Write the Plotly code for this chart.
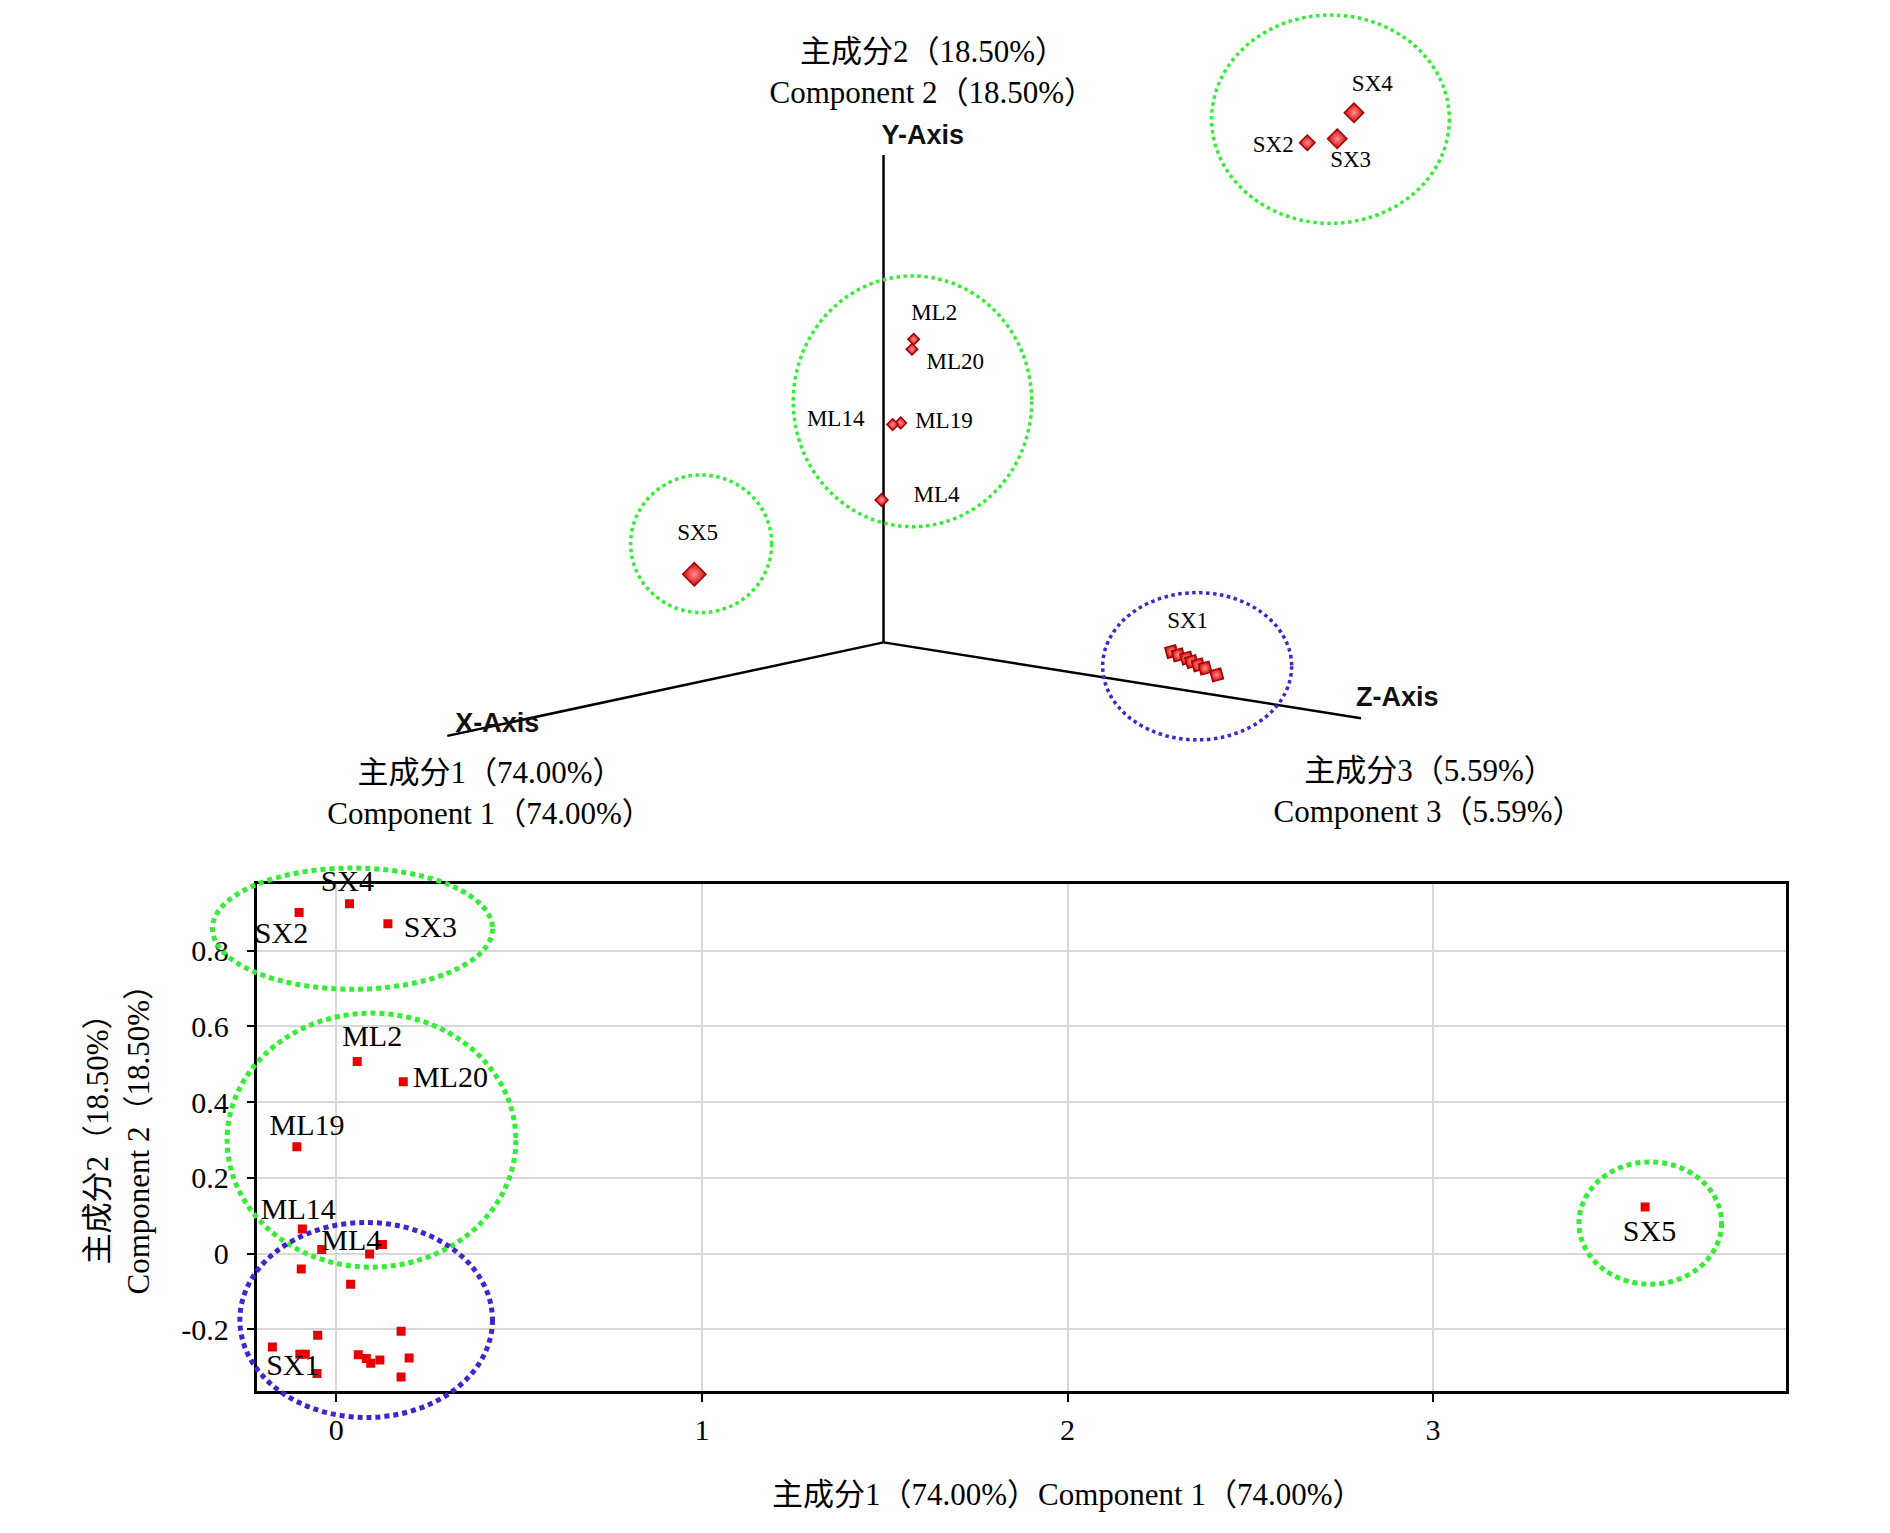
import plotly.graph_objects as go

# ---------------- 2D score plot (PC1 vs PC2) ----------------
pc1_scores = [0.036, -0.102, 0.141, 0.057, 0.183, -0.108, -0.093, -0.040, 0.091, 0.126,
              -0.096, 0.039, 0.177, -0.051, -0.175, -0.100, -0.085, -0.053, 0.060, 0.082,
              0.094, 0.119, 0.199, 0.177, 3.580]
pc2_scores = [0.924, 0.901, 0.871, 0.507, 0.454, 0.282, 0.065, 0.011, -0.001, 0.024,
              -0.041, -0.081, -0.205, -0.216, -0.247, -0.266, -0.266, -0.317, -0.267, -0.277,
              -0.290, -0.281, -0.276, -0.326, 0.123]

label_names_2d = ["SX4", "SX2", "SX3", "ML2", "ML20", "ML19", "ML14", "ML4", "SX1", "SX5"]
label_pc1 = [0.030, -0.150, 0.257, 0.098, 0.312, -0.080, -0.104, 0.041, -0.119, 3.592]
label_pc2 = [0.977, 0.840, 0.856, 0.567, 0.459, 0.334, 0.111, 0.030, -0.301, 0.053]

x_tick_vals = [0, 1, 2, 3]
x_tick_text = ["0", "1", "2", "3"]
y_tick_vals = [-0.2, 0, 0.2, 0.4, 0.6, 0.8]
y_tick_text = ["-0.2", "0", "0.2", "0.4", "0.6", "0.8"]

# ---------------- pseudo-3D view (projected coordinates) ----------------
proj_names = ["SX4", "SX2", "SX3", "ML2", "ML20", "ML19", "ML14", "ML4", "SX5",
              "SX1", "SX1", "SX1", "SX1", "SX1", "SX1", "SX1"]
proj_u = [3.903, 3.516, 3.764, 0.250, 0.236, 0.142, 0.076, -0.016, -1.570,
          2.390, 2.445, 2.515, 2.556, 2.611, 2.667, 2.764]
proj_v = [4.395, 4.146, 4.179, 2.515, 2.432, 1.821, 1.807, 1.182, 0.565,
          -0.076, -0.104, -0.131, -0.159, -0.187, -0.214, -0.270]

proj_label_names = ["SX4", "SX2", "SX3", "ML2", "ML20", "ML14", "ML19", "ML4", "SX5", "SX1"]
proj_label_u = [4.055, 3.233, 3.875, 0.420, 0.595, -0.397, 0.501, 0.440, -1.542, 2.523]
proj_label_v = [4.625, 4.113, 3.989, 2.722, 2.316, 1.846, 1.823, 1.210, 0.897, 0.164]

axis_names = ["X-Axis", "Y-Axis", "Z-Axis"]
axis_end_u = [-3.619, 0.0, 3.961]
axis_end_v = [-0.776, 4.044, -0.629]
axis_label_u = [-3.204, 0.325, 4.262]
axis_label_v = [-0.685, 4.191, -0.469]

comp_titles = ["主成分1（74.00%）", "Component 1（74.00%）",
               "主成分2（18.50%）", "Component 2（18.50%）",
               "主成分3（5.59%）", "Component 3（5.59%）"]
comp_title_u = [-3.26, -3.265, 0.41, 0.405, 4.53, 4.522]
comp_title_v = [-1.10, -1.44, 4.88, 4.54, -1.09, -1.43]

# ---------------- styles ----------------
SERIF = "Liberation Serif, 'Noto Sans CJK SC', serif"
SANS_B = "Liberation Sans, Arial, sans-serif"
GREEN = "#33EE33"
BLUE = "#4422CC"
W, H = 1890, 1533

proj_marker_size = {"SX4": 15, "SX2": 12, "SX3": 15, "ML2": 9, "ML20": 9, "ML19": 9,
                    "ML14": 9, "ML4": 10, "SX5": 18, "SX1": 12}
proj_marker_angle = {"SX1": 30}

x_range = [-0.216, 3.965]
y_range = [-0.363, 0.977]
u_range = [-7.33, 8.35]
v_range = [-7.39, 5.33]

fig = go.Figure()

# 2D scatter
fig.add_trace(go.Scatter(
    x=pc1_scores, y=pc2_scores, mode="markers",
    marker=dict(symbol="square", size=9, color="#E80000", line=dict(width=0)),
    xaxis="x", yaxis="y", showlegend=False, hoverinfo="skip"))
fig.add_trace(go.Scatter(
    x=label_pc1, y=label_pc2, text=label_names_2d, mode="text",
    textposition="middle center", textfont=dict(family=SERIF, size=30, color="black"),
    cliponaxis=False, xaxis="x", yaxis="y", showlegend=False, hoverinfo="skip"))

# pseudo 3D axes
ax_u, ax_v = [], []
for eu, ev in zip(axis_end_u, axis_end_v):
    ax_u += [0, eu, None]
    ax_v += [0, ev, None]
fig.add_trace(go.Scatter(x=ax_u, y=ax_v, mode="lines", line=dict(color="black", width=2.5),
                         xaxis="x2", yaxis="y2", showlegend=False, hoverinfo="skip"))

fig.add_trace(go.Scatter(
    x=proj_u, y=proj_v, mode="markers",
    marker=dict(symbol="diamond",
                size=[proj_marker_size[n] for n in proj_names],
                angle=[proj_marker_angle.get(n, 0) for n in proj_names],
                color="#D40000",
                gradient=dict(type="radial", color="#FF9090"),
                opacity=1,
                line=dict(color="#A00000", width=1.4)),
    xaxis="x2", yaxis="y2", showlegend=False, hoverinfo="skip"))

fig.add_trace(go.Scatter(
    x=proj_label_u, y=proj_label_v, text=proj_label_names, mode="text",
    textposition="middle center", textfont=dict(family=SERIF, size=23, color="black"),
    cliponaxis=False, xaxis="x2", yaxis="y2", showlegend=False, hoverinfo="skip"))

fig.add_trace(go.Scatter(
    x=axis_label_u, y=axis_label_v, text=["<b>%s</b>" % a for a in axis_names], mode="text",
    textposition="middle center", textfont=dict(family=SANS_B, size=27, color="#111"),
    cliponaxis=False, xaxis="x2", yaxis="y2", showlegend=False, hoverinfo="skip"))

fig.add_trace(go.Scatter(
    x=comp_title_u, y=comp_title_v, text=comp_titles, mode="text",
    textposition="middle center", textfont=dict(family=SERIF, size=31, color="black"),
    cliponaxis=False, xaxis="x2", yaxis="y2", showlegend=False, hoverinfo="skip"))

shapes = []
# top ellipses (projected units): center u, v, radius u, v, color
top_ellipses = [(3.708, 4.341, 0.986, 0.864, GREEN),
                (0.240, 2.000, 0.989, 1.040, GREEN),
                (-1.513, 0.818, 0.585, 0.571, GREEN),
                (2.602, -0.198, 0.784, 0.611, BLUE)]
for cu, cv, ru, rv, col in top_ellipses:
    shapes.append(dict(type="circle", xref="x2", yref="y2",
                       x0=cu - ru, x1=cu + ru, y0=cv - rv, y1=cv + rv,
                       line=dict(color=col, width=3.5, dash="3.5px,3.5px")))

# bottom ellipses in data units of the 2D plot, placed via domain fractions so they are not clipped
def fx(v):
    return (v - x_range[0]) / (x_range[1] - x_range[0])

def fy(v):
    return (v - y_range[0]) / (y_range[1] - y_range[0])

bottom_ellipses = [(-0.339, 0.427, 0.698, 1.018, GREEN),
                   (-0.299, 0.491, -0.036, 0.635, GREEN),
                   (-0.264, 0.427, -0.433, 0.082, BLUE),
                   (3.399, 3.789, -0.081, 0.242, GREEN)]
for x0, x1, y0, y1, col in bottom_ellipses:
    shapes.append(dict(type="circle", xref="x domain", yref="y domain",
                       x0=fx(x0), x1=fx(x1), y0=fy(y0), y1=fy(y1),
                       line=dict(color=col, width=5, dash="5px,4px")))

annotations = [
    dict(text="主成分2（18.50%）", xref="paper", yref="paper", x=96.5 / W, y=(H - 1132) / H,
         textangle=-90, showarrow=False, font=dict(family=SERIF, size=31, color="black"),
         xanchor="center", yanchor="middle"),
    dict(text="Component 2（18.50%）", xref="paper", yref="paper", x=137.5 / W, y=(H - 1132) / H,
         textangle=-90, showarrow=False, font=dict(family=SERIF, size=31, color="black"),
         xanchor="center", yanchor="middle"),
    dict(text="主成分1（74.00%）Component 1（74.00%）", xref="paper", yref="paper",
         x=1068 / W, y=(H - 1494.7) / H, showarrow=False,
         font=dict(family=SERIF, size=31, color="black"), xanchor="center", yanchor="middle"),
]

fig.update_layout(
    width=W, height=H,
    margin=dict(l=0, r=0, t=0, b=0),
    paper_bgcolor="white", plot_bgcolor="rgba(0,0,0,0)",
    shapes=shapes, annotations=annotations,
    xaxis=dict(domain=[257.4 / W, 1785.9 / W], anchor="y", range=x_range,
               tickvals=x_tick_vals, ticktext=x_tick_text,
               showgrid=True, gridcolor="#D8D8D8", gridwidth=1.5, zeroline=False,
               showline=True, linecolor="black", linewidth=2.5, mirror=True,
               ticks="outside", ticklen=8, tickwidth=2, tickcolor="black",
               ticklabelstandoff=2,
               tickfont=dict(family=SERIF, size=30, color="black"), fixedrange=True),
    yaxis=dict(domain=[(H - 1391.0) / H, (H - 883.6) / H], anchor="x", range=y_range,
               tickvals=y_tick_vals, ticktext=y_tick_text,
               showgrid=True, gridcolor="#D8D8D8", gridwidth=1.5, zeroline=False,
               showline=True, linecolor="black", linewidth=2.5, mirror=True,
               ticks="outside", ticklen=8, tickwidth=2, tickcolor="black",
               ticklabelstandoff=12,
               tickfont=dict(family=SERIF, size=30, color="black"), fixedrange=True),
    xaxis2=dict(domain=[0, 1], anchor="y2", range=u_range, visible=False, fixedrange=True),
    yaxis2=dict(domain=[0, 1], anchor="x2", range=v_range, visible=False, fixedrange=True),
)

fig.write_html("out.html", config={"displayModeBar": False},
               post_script="document.body.style.margin='0';document.body.style.overflow='hidden';")
